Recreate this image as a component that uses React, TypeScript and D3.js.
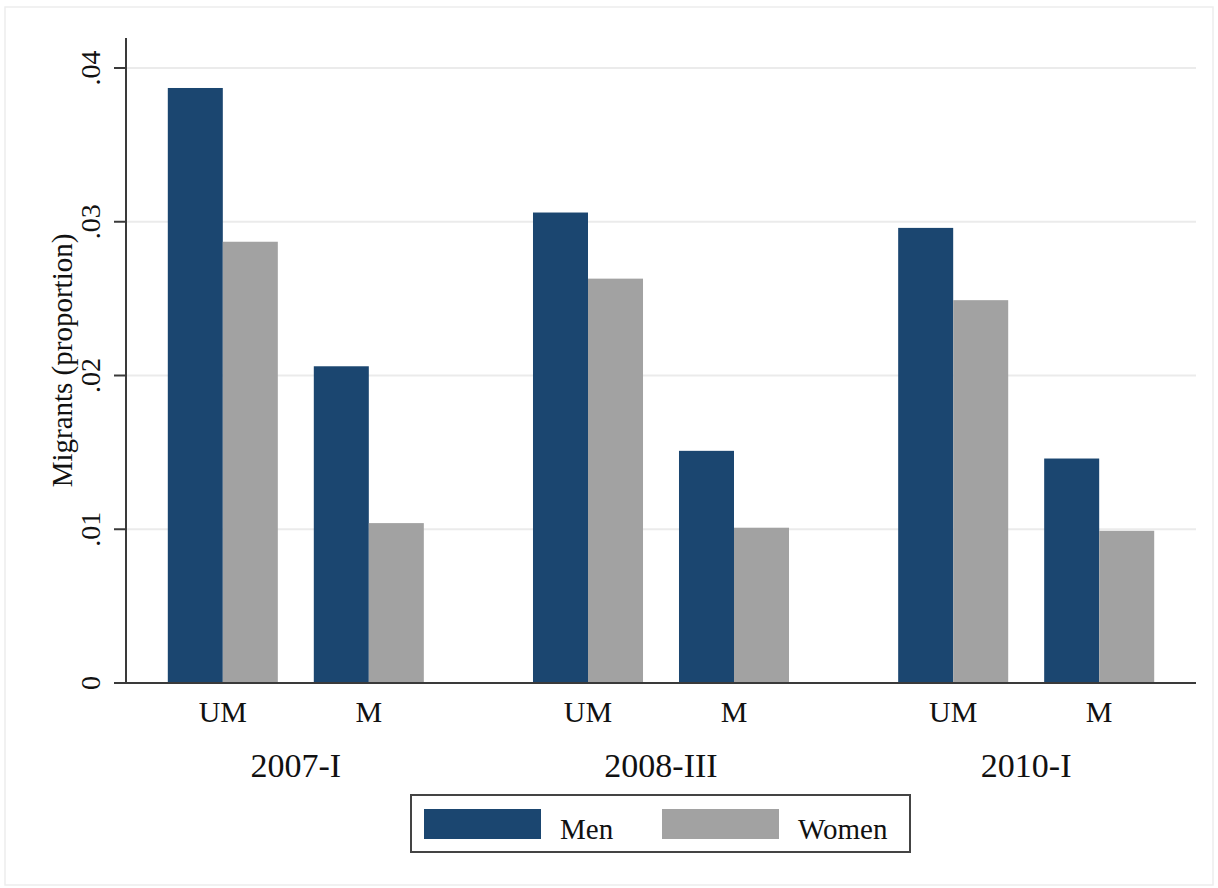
import React, { useEffect, useRef } from 'react';
import * as d3 from 'd3';

const years = ['2007-I', '2008-III', '2010-I'];
const types = ['UM', 'M'];
const sexes = ['Men', 'Women'];
const menUM = [0.0387, 0.0306, 0.0296];
const womenUM = [0.0287, 0.0263, 0.0249];
const menM = [0.0206, 0.0151, 0.0146];
const womenM = [0.0104, 0.0101, 0.0099];
const yTicks = [0, 0.01, 0.02, 0.03, 0.04];
const yTickLabels = ['0', '.01', '.02', '.03', '.04'];

const W = 1218;
const H = 888;

export default function App() {
  const svgRef = useRef<SVGSVGElement>(null);

  useEffect(() => {
    if (!svgRef.current) return;
    const svg = d3.select(svgRef.current);
    svg.selectAll('*').remove();

    const font = '"Liberation Serif", "Times New Roman", serif';
    const colors: Record<string, string> = { Men: '#1b4670', Women: '#a2a2a2' };
    const axisColor = '#3a3a3a';

    const left = 126, right = 1196, top = 38, bottom = 683;

    // faint outer frame
    svg.append('rect').attr('x', 5).attr('y', 7).attr('width', 1208).attr('height', 878)
      .attr('fill', '#fff').attr('stroke', '#ededed').attr('stroke-width', 1.5);

    const y = d3.scaleLinear().domain([0, 0.04]).range([bottom, 68]);
    const xYear = d3.scalePoint<string>().domain(years).range([left, right]).padding(0.465);
    const xType = d3.scaleBand<string>().domain(types).range([-146, 146]);
    const xSex = d3.scaleBand<string>().domain(sexes).range([0, 146]).paddingInner(0).paddingOuter(0.327);

    // gridlines
    svg.append('g').selectAll('line').data(yTicks.filter(t => t > 0)).enter().append('line')
      .attr('x1', left).attr('x2', right).attr('y1', d => y(d)).attr('y2', d => y(d))
      .attr('stroke', '#ebebeb').attr('stroke-width', 2);

    const rows: { year: string; type: string; sex: string; value: number }[] = [];
    years.forEach((yr, i) => {
      rows.push({ year: yr, type: 'UM', sex: 'Men', value: menUM[i] });
      rows.push({ year: yr, type: 'UM', sex: 'Women', value: womenUM[i] });
      rows.push({ year: yr, type: 'M', sex: 'Men', value: menM[i] });
      rows.push({ year: yr, type: 'M', sex: 'Women', value: womenM[i] });
    });

    const barX = (d: any) => (xYear(d.year) as number) + (xType(d.type) as number) + (xSex(d.sex) as number);
    svg.append('g').selectAll('rect').data(rows).enter().append('rect')
      .attr('x', barX).attr('width', xSex.bandwidth())
      .attr('y', d => y(d.value)).attr('height', d => y(0) - y(d.value))
      .attr('fill', d => colors[d.sex]);

    // y axis
    svg.append('line').attr('x1', left).attr('x2', left).attr('y1', top).attr('y2', bottom)
      .attr('stroke', axisColor).attr('stroke-width', 2);
    svg.append('line').attr('x1', left - 1).attr('x2', right).attr('y1', bottom).attr('y2', bottom)
      .attr('stroke', axisColor).attr('stroke-width', 2);
    const yt = svg.append('g');
    yt.selectAll('line').data(yTicks).enter().append('line')
      .attr('x1', left - 12).attr('x2', left).attr('y1', d => y(d)).attr('y2', d => y(d))
      .attr('stroke', axisColor).attr('stroke-width', 2);
    yt.selectAll('text').data(yTicks).enter().append('text')
      .attr('transform', d => `translate(100,${y(d)}) rotate(-90)`)
      .attr('text-anchor', 'middle').attr('fill', '#111')
      .style('font-family', font).style('font-size', '28px')
      .text((d, i) => yTickLabels[i]);

    svg.append('text').attr('transform', `translate(72,${(top + bottom) / 2}) rotate(-90)`)
      .attr('text-anchor', 'middle').attr('fill', '#111')
      .style('font-family', font).style('font-size', '29px')
      .text('Migrants (proportion)');

    // category labels
    const cats: { year: string; type: string }[] = [];
    years.forEach(yr => types.forEach(t => cats.push({ year: yr, type: t })));
    svg.append('g').selectAll('text').data(cats).enter().append('text')
      .attr('x', d => (xYear(d.year) as number) + (xType(d.type) as number) + xType.bandwidth() / 2)
      .attr('y', 722).attr('text-anchor', 'middle').attr('fill', '#111')
      .style('font-family', font).style('font-size', '30px')
      .text(d => d.type);
    svg.append('g').selectAll('text').data(years).enter().append('text')
      .attr('x', d => xYear(d) as number).attr('y', 777).attr('text-anchor', 'middle').attr('fill', '#111')
      .style('font-family', font).style('font-size', '34px')
      .text(d => d);

    // legend
    const lg = svg.append('g');
    lg.append('rect').attr('x', 411).attr('y', 795).attr('width', 499).attr('height', 57)
      .attr('fill', '#fff').attr('stroke', '#444').attr('stroke-width', 2);
    const items = lg.selectAll('g.item').data(sexes).enter().append('g').attr('class', 'item')
      .attr('transform', (d, i) => `translate(${424 + i * 238},0)`);
    items.append('rect').attr('x', 0).attr('y', 809).attr('width', 117).attr('height', 30)
      .attr('fill', d => colors[d]);
    items.append('text').attr('x', 136).attr('y', 839).attr('fill', '#111')
      .style('font-family', font).style('font-size', '29px').text(d => d);
  }, []);

  return (
    <svg ref={svgRef} width={W} height={H} viewBox={`0 0 ${W} ${H}`}
      style={{ position: 'absolute', left: 0, top: 0, background: '#fff' }} />
  );
}
